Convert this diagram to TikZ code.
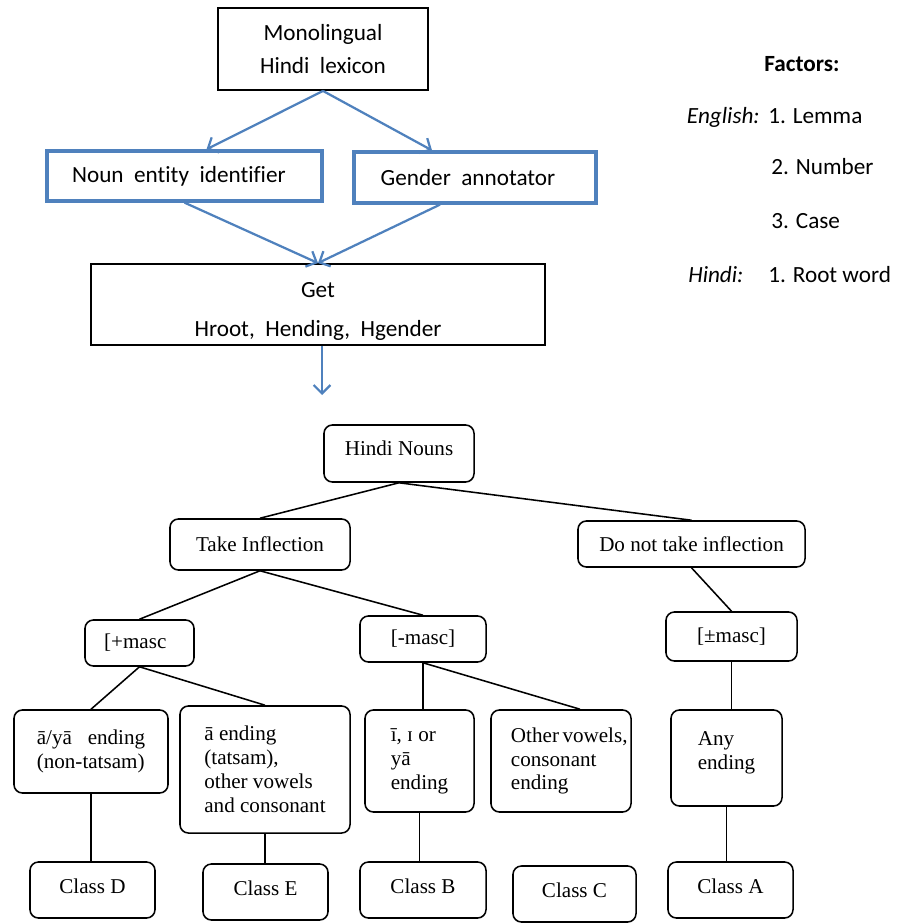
\documentclass[tikz,border=0pt]{standalone}
\usepackage{fontspec}
\setmainfont{Liberation Serif}
\newfontfamily\calib[Ligatures=CommonOff]{Carlito}
\usetikzlibrary{arrows.meta}
\usetikzlibrary{calc}
\definecolor{offblue}{RGB}{79,129,189}
\tikzset{
  flowbox/.style={draw, line width=1.3pt, font=\calib\fontsize{16.5}{24}\selectfont, align=center, inner sep=0pt},
  bluebox/.style={flowbox, draw=offblue, line width=2.3pt},
  flowarrow/.style={draw=offblue, line width=1.6pt, -{Straight Barb[length=6pt,width=12pt]}},
  treebox/.style={draw, rounded corners=6pt, line width=1.1pt, font=\fontsize{15}{17}\selectfont, align=left, inner sep=0pt},
  treeline/.style={line width=1.1pt},
  factor/.style={font=\calib\fontsize{16.5}{20}\selectfont, inner sep=0pt}
}

\begin{document}
\begin{tikzpicture}[x=0.025cm, y=-0.025cm]
\useasboundingbox (0,0) rectangle (903,924);

\node[flowbox, minimum width=5.25cm, minimum height=2.05cm]   (mono)   at (323,49)    {Monolingual\\Hindi\ \ lexicon};
\node[bluebox, minimum width=6.875cm, minimum height=1.25cm]  (noun)   at (184.5,176) {Noun\ \ entity\ \ identifier\hspace{8pt}};
\node[bluebox, minimum width=6.05cm, minimum height=1.275cm]  (gender) at (475,177.5) {Gender\ \ annotator\hspace{10pt}};
\node[flowbox, minimum width=11.35cm, minimum height=2.025cm, font=\calib\fontsize{16.5}{28}\selectfont]
                                                               (get)    at (318,304.5) {\rule{0pt}{21pt}Get\\Hroot,\ \ Hending,\ \ Hgender};
\coordinate (out) at (322,395);

\draw[flowarrow] (mono.south) -- ($(noun.north)+(22,0)$);
\draw[flowarrow] (mono.south) -- ($(gender.north)+(-43,0)$);
\draw[flowarrow] (noun.south) -- (get.north);
\draw[flowarrow] ($(gender.south)+(-35,0)$) -- (get.north);
\draw[flowarrow] (get.south -| out) -- (out);

\node[factor, anchor=base, font=\calib\bfseries\fontsize{16.5}{20}\selectfont] (factors) at (802,72) {Factors:};
\node[factor, anchor=base east, font=\calib\itshape\fontsize{16.5}{20}\selectfont] (english) at (760,124) {English:};
\node[factor, anchor=base west] (lemma)  at (768,124) {1. Lemma};
\node[factor, anchor=base west] (number) at (771,175) {2. Number};
\node[factor, anchor=base west] (case)   at (771,229) {3. Case};
\node[factor, anchor=base west, font=\calib\itshape\fontsize{16.5}{20}\selectfont] (hindi) at (688,283) {Hindi:};
\node[factor, anchor=base west] (root)   at (768,283) {1. Root word};

\node[treebox, minimum width=3.75cm, minimum height=1.425cm]  (nouns)   at (399,453.5) {Hindi Nouns\rule[-8pt]{0pt}{0pt}};
\node[treebox, minimum width=4.5cm, minimum height=1.275cm]   (takeinf) at (260,544.5) {Take Inflection};
\node[treebox, minimum width=5.675cm, minimum height=1.15cm]  (donot)   at (691.5,544) {Do not take inflection};
\node[treebox, minimum width=2.725cm, minimum height=1.15cm]  (plusm)   at (139.5,643) {[+masc\hspace{6pt}};
\node[treebox, minimum width=3.15cm, minimum height=1.15cm]   (minusm)  at (423,639)   {[-masc]};
\node[treebox, minimum width=3.275cm, minimum height=1.225cm] (pmm)     at (731.5,636.5) {[±masc]};

\node[treebox, minimum width=3.85cm, minimum height=2.075cm]  (endD) at (91,751.5)  {ā/yā\ \ \ ending\\(non-tatsam)};
\node[treebox, minimum width=4.25cm, minimum height=3.175cm]  (endE) at (265,769.5) {ā ending\\(tatsam),\\other vowels\\and consonant};
\node[treebox, minimum width=2.725cm, minimum height=2.55cm]  (endB) at (419.5,761) {ī, ɪ or\\yā\\ending};
\node[treebox, minimum width=3.5cm, minimum height=2.55cm, text width=2.5cm] (endC) at (561,761) {\mbox{Other\hspace{2.5pt}vowels,}\\consonant\\ending};
\node[treebox, minimum width=2.775cm, minimum height=2.4cm]   (endA) at (726.5,758) {Any\\ending\rule[-11pt]{0pt}{0pt}};

\node[treebox, minimum width=3.125cm, minimum height=1.4cm] (classD) at (92.5,890)  {Class D\rule[-6pt]{0pt}{0pt}};
\node[treebox, minimum width=3.125cm, minimum height=1.4cm] (classE) at (265.5,892) {Class E\rule[-6pt]{0pt}{0pt}};
\node[treebox, minimum width=3.15cm, minimum height=1.4cm]  (classB) at (423,890)   {Class B\rule[-6pt]{0pt}{0pt}};
\node[treebox, minimum width=3.075cm, minimum height=1.4cm] (classC) at (574.5,894) {Class C\rule[-6pt]{0pt}{0pt}};
\node[treebox, minimum width=3.125cm, minimum height=1.4cm] (classA) at (730.5,890) {Class A\rule[-6pt]{0pt}{0pt}};

\draw[treeline] (nouns.south) -- (takeinf.north);
\draw[treeline] (nouns.south) -- (donot.north);
\draw[treeline] (takeinf.south) -- (plusm.north);
\draw[treeline] (takeinf.south) -- (minusm.north);
\draw[treeline] (donot.south) -- (pmm.north);
\draw[treeline] (plusm.south) -- (endD.north);
\draw[treeline] (plusm.south) -- (endE.north);
\draw[treeline] (minusm.south) -- (minusm.south |- endB.north);
\draw[treeline] (minusm.south) -- ($(endC.north)+(19,0)$);
\draw[treeline] (pmm.south) -- (pmm.south |- endA.north);
\draw[treeline] (endD.south) -- (endD.south |- classD.north);
\draw[treeline] (endE.south) -- (endE.south |- classE.north);
\draw[treeline] (endB.south) -- (endB.south |- classB.north);
\draw[treeline] ($(endC.south)+(20,0)$) -- ($(endC.south)+(20,0)$ |- classC.north);
\draw[treeline] (endA.south) -- (endA.south |- classA.north);
\end{tikzpicture}
\end{document}
